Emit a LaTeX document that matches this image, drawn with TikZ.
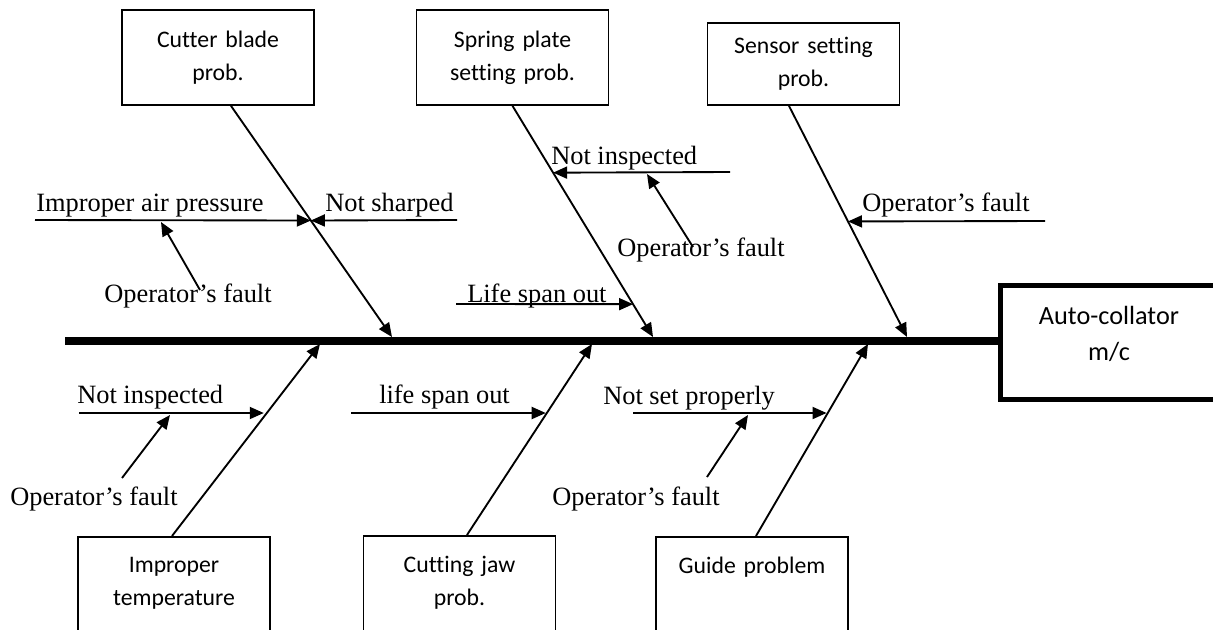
\documentclass[tikz,border=0pt]{standalone}
\usepackage{fontspec}
\setmainfont{Liberation Serif}
\newfontfamily\calibri[Ligatures=NoCommon]{Carlito}
\usetikzlibrary{arrows.meta,calc}

\tikzset{
  cause/.style={draw,line width=1.3pt,text width=144pt,inner xsep=0pt,align=center,
    font=\calibri\fontsize{17.8}{25}\selectfont},
  lowcause/.style={cause,anchor=north,inner ysep=15pt,text depth=70pt},
  effect/.style={draw,line width=3.8pt,text width=150pt,minimum width=163pt,inner xsep=0pt,
    align=center,minimum height=85.5pt,text depth=40pt,font=\calibri\fontsize{19.7}{27}\selectfont},
  bone/.style={line width=1.4pt,-{Triangle[length=10.5pt,width=9pt]}},
  lbl/.style={inner sep=0pt,anchor=base west,font=\fontsize{19.8}{22}\selectfont}
}

\begin{document}
\begin{tikzpicture}[x=0.75pt,y=-0.75pt]
\path[use as bounding box] (0,0) rectangle (1213,629);
\node[cause,minimum height=71.25pt] (blade) at (218,57.5) {Cutter blade\\prob.};
\node[cause,minimum height=71.25pt] (spring) at (512.5,57.5) {Spring plate\\setting prob.};
\node[cause,minimum height=61.5pt] (sensor) at (803.5,64) {Sensor setting\\prob.};
\node[lowcause] (temp) at (174,536) {Improper\\temperature};
\node[lowcause] (jaw) at (459.5,535) {Cutting jaw\\prob.};
\node[lowcause] (guide) at (752,536) {Guide problem};
\node[effect] (effect) at (1109,342.5) {Auto-collator\\m/c};
\coordinate (tail) at (65,340.5);
\draw[line width=6pt] (tail) -- (tail -| effect.west);
\coordinate (b1) at ([xshift=9.75pt]blade.south);
\coordinate (b2) at (spring.south);
\coordinate (b3) at ([xshift=-10.9pt]sensor.south);
\coordinate (b4) at ([xshift=-1.5pt]temp.north);
\coordinate (b5) at ([xshift=5.6pt]jaw.north);
\coordinate (b6) at ([xshift=3pt]guide.north);
\coordinate (s1) at (392,337);
\coordinate (s2) at (653,337);
\coordinate (s3) at (907,337);
\coordinate (s4) at (320,344);
\coordinate (s5) at (592,344);
\coordinate (s6) at (868,344);
\draw[bone] (b1) -- (s1);
\draw[bone] (b2) -- (s2);
\draw[bone] (b3) -- (s3);
\draw[bone] (b4) -- (s4);
\draw[bone] (b5) -- (s5);
\draw[bone] (b6) -- (s6);
\coordinate (k1) at ($(b1)!.496!(s1)$);
\coordinate (k2) at ($(b2)!.289!(s2)$);
\coordinate (k3) at ($(b2)!.858!(s2)$);
\coordinate (k4) at ($(b3)!.5!(s3)$);
\coordinate (k5) at ($(b4)!.62!(s4)$);
\coordinate (k6) at ($(b5)!.63!(s5)$);
\coordinate (k7) at ($(b6)!.63!(s6)$);
\coordinate (a1) at (35,220);
\coordinate (a2) at (457,220);
\coordinate (a3) at (730,172);
\coordinate (a4) at (456,304);
\coordinate (a5) at (1045,221);
\coordinate (a6) at (79,413);
\coordinate (a7) at (351,413);
\coordinate (a8) at (633,413);
\draw[bone] (a1) -- (k1);
\draw[bone] (a2) -- (k1);
\draw[bone] (a3) -- (k2);
\draw[bone] (a4) -- (k3);
\draw[bone] (a5) -- (k4);
\draw[bone] (a6) -- (a6 -| k5);
\draw[bone] (a7) -- (a7 -| k6);
\draw[bone] (a8) -- (a8 -| k7);
\coordinate (f1) at (200,290);
\coordinate (f2) at (693,247);
\coordinate (f3) at (122,478);
\coordinate (f4) at (707,477);
\draw[bone] (f1) -- (161,222);
\draw[bone] (f2) -- (647,174);
\draw[bone] (f3) -- (170,415);
\draw[bone] (f4) -- (748,415);
\node[lbl] (airp) at (36,211) {Improper air pressure};
\node[lbl] (sharp) at (325,211) {Not sharped};
\node[lbl] (opf1) at (104,302) {Operator's fault};
\node[lbl] (insp1) at (551,164) {Not inspected};
\node[lbl] (opf2) at (617,256) {Operator's fault};
\node[lbl] (life1) at (467,302) {Life span out};
\node[lbl] (opf3) at (862,211) {Operator's fault};
\node[lbl] (insp2) at (77,403) {Not inspected};
\node[lbl] (opf4) at (10,505) {Operator's fault};
\node[lbl] (life2) at (379,403) {life span out};
\node[lbl] (notset) at (603,404) {Not set properly};
\node[lbl] (opf5) at (552,505) {Operator's fault};
\end{tikzpicture}
\end{document}
